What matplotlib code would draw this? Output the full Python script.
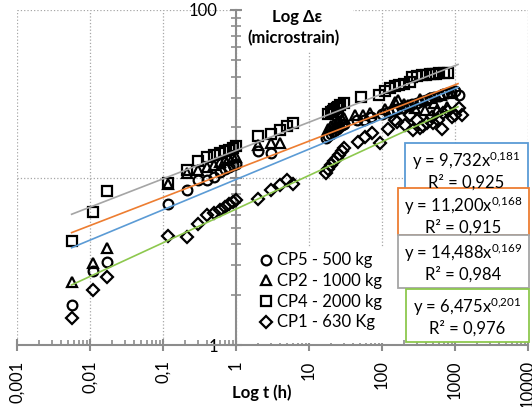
import numpy as np
import matplotlib
matplotlib.use('Agg')
import matplotlib.pyplot as plt
from matplotlib.patches import Rectangle
from matplotlib.ticker import FixedLocator, FixedFormatter, NullFormatter, LogLocator

plt.rcParams['font.family'] = ['Lato', 'DejaVu Sans']

# CP5 - 500 kg (circles)
t_cp5 = [0.0056, 0.011, 0.017, 0.117, 0.21, 0.3, 0.4, 0.5, 0.6, 0.7, 0.8, 0.9, 1.0,
         2, 3, 17, 18, 20, 22, 24, 26, 28, 30, 45, 57, 70, 100, 120, 140, 160, 190,
         220, 260, 300, 350, 400, 460, 520, 600, 680, 770, 870, 1000, 1150]
e_cp5 = [1.73, 2.78, 3.12, 6.9, 8.4, 9.6, 9.7, 10.1, 10.8, 11.3, 11.6, 11.9, 12.1,
         14.3, 14.0, 17.2, 17.6, 18.3, 19.0, 19.6, 20.1, 20.6, 21.0, 22.0, 22.0, 23.0, 24.0, 24.5, 25.0, 25.5, 26.0,
         26.8, 27.5, 28.0, 28.8, 29.2, 29.8, 30.3, 30.8, 31.3, 31.8, 32.3, 32.8, 31.0]

# CP2 - 1000 kg (triangles)
t_cp2 = [0.0056, 0.011, 0.017, 0.117, 0.21, 0.3, 0.4, 0.5, 0.6, 0.7, 0.8, 0.9, 1.0,
         2, 3, 4, 18, 20, 22, 24, 26, 28, 30, 43, 55, 68, 110, 150, 167, 200, 226,
         280, 330, 390, 450, 520, 570, 650, 780, 900]
e_cp2 = [2.39, 3.10, 3.78, 9.2, 10.6, 11.1, 11.6, 11.9, 12.4, 12.7, 13.0, 13.2, 13.3,
         15.6, 16.0, 16.1, 19.5, 20.2, 20.8, 21.3, 21.8, 22.3, 22.8, 23.6, 23.6, 24.3, 25.5, 28.4, 29.0, 27.5, 27.0,
         26.0, 29.5, 25.3, 30.0, 28.0, 25.3, 31.0, 26.5, 32.0]

# CP4 - 2000 kg (squares)
t_cp4 = [0.0056, 0.011, 0.017, 0.117, 0.21, 0.3, 0.4, 0.5, 0.6, 0.7, 0.8, 0.9, 1.0,
         2, 3, 4, 5, 6, 18, 20, 21, 22, 24, 25, 27, 30, 52, 90, 110, 130, 150, 170,
         200, 240, 260, 300, 350, 400, 450, 500, 550, 600, 700, 800]
e_cp4 = [4.18, 6.25, 8.34, 9.3, 11.1, 12.5, 13.2, 13.7, 14.0, 14.3, 14.6, 14.9, 15.4,
         17.6, 18.3, 19.2, 20.4, 21.1, 24.0, 24.5, 25.0, 25.5, 26.0, 26.5, 27.0, 28.0, 30.4, 31.2, 33.0, 34.0, 35.0, 35.5,
         36.0, 37.0, 40.0, 40.5, 41.0, 41.0, 41.5, 41.5, 41.5, 42.0, 42.0, 42.0]

# CP1 - 630 Kg (diamonds)
t_cp1 = [0.0056, 0.011, 0.017, 0.117, 0.21, 0.3, 0.4, 0.5, 0.6, 0.7, 0.8, 0.9, 1.0,
         2, 3, 4, 5, 6, 17, 18, 20, 22, 24, 26, 28, 30, 47, 59, 73, 94, 120, 150, 160,
         205, 240, 265, 300, 330, 360, 410, 480, 500, 580, 660, 680, 800, 900, 1000, 1150, 1230]
e_cp1 = [1.44, 2.13, 2.54, 4.48, 4.43, 5.28, 5.97, 6.1, 6.4, 6.7, 6.9, 7.1, 7.3,
         7.4, 8.4, 9.0, 9.7, 9.2, 10.6, 11.2, 11.8, 12.5, 13.1, 13.7, 14.3, 14.9, 16.4, 17.5, 18.4, 16.0, 19.5, 22.0, 21.5,
         20.6, 23.6, 19.2, 22.0, 19.7, 20.2, 21.1, 23.1, 21.2, 22.0, 19.6, 24.2, 25.0, 23.1, 23.6, 26.0, 23.6]

# power-law trendlines y = a * t^b (same order: CP5, CP2, CP4, CP1)
fit_a = [9.732, 11.200, 14.488, 6.475]
fit_b = [0.181, 0.168, 0.169, 0.201]
fit_a_lbl = ['9,732', '11,200', '14,488', '6,475']
fit_b_lbl = ['0,181', '0,168', '0,169', '0,201']
fit_r2_lbl = ['0,925', '0,915', '0,984', '0,976']
fit_colors = ['#5B9BD5', '#ED7D31', '#A5A5A5', '#8DC84E']

series_t = [t_cp5, t_cp2, t_cp4, t_cp1]
series_e = [e_cp5, e_cp2, e_cp4, e_cp1]
series_lbl = ['CP5 - 500 kg', 'CP2 - 1000 kg', 'CP4 - 2000 kg', 'CP1 - 630 Kg']
markers = ['o', '^', 's', 'D']
msizes = [7, 7.5, 7, 6]

x_ticks = [0.001, 0.01, 0.1, 1, 10, 100, 1000, 10000]
x_tick_lbl = ['0,001', '0,01', '0,1', '1', '10', '100', '1000', '10000']

W, H = 532, 407
FS = 12
fig = plt.figure(figsize=(W / 100, H / 100), dpi=100)
ax = fig.add_axes([17 / W, 62 / H, 511 / W, 335 / H])
ax.set_xscale('log')
ax.set_yscale('log')
ax.set_xlim(0.001, 10000)
ax.set_ylim(1, 100)

axis_gray = '#8C8C8C'
ax.grid(True, which='major', ls=':', color='#A6A6A6', lw=0.9)
ax.set_axisbelow(True)
for s in ['top', 'right']:
    ax.spines[s].set_visible(False)
ax.spines['left'].set_position(('data', 1))
ax.spines['left'].set_color(axis_gray)
ax.spines['bottom'].set_color(axis_gray)
ax.spines['left'].set_linewidth(1.5)
ax.spines['bottom'].set_linewidth(1.5)

ax.xaxis.set_major_locator(FixedLocator(x_ticks))
ax.xaxis.set_major_formatter(FixedFormatter(x_tick_lbl))
ax.xaxis.set_minor_locator(LogLocator(base=10, subs=np.arange(2, 10), numticks=20))
ax.xaxis.set_minor_formatter(NullFormatter())
ax.yaxis.set_major_locator(FixedLocator([1, 10, 100]))
ax.yaxis.set_major_formatter(FixedFormatter(['1', '', '100']))
ax.yaxis.set_minor_locator(LogLocator(base=10, subs=np.arange(2, 10), numticks=20))
ax.yaxis.set_minor_formatter(NullFormatter())

ax.tick_params(axis='x', which='major', direction='inout', length=8, width=1.5,
               color=axis_gray, labelsize=FS, labelrotation=90, pad=7)
ax.tick_params(axis='x', which='minor', direction='in', length=3.5, width=1.2, color=axis_gray)
ax.tick_params(axis='y', which='major', direction='inout', length=8, width=1.5,
               color=axis_gray, labelsize=FS, pad=9)
ax.tick_params(axis='y', which='minor', direction='inout', length=7, width=1.2, color=axis_gray)

handles = []
for t, e, lbl, m, ms in zip(series_t, series_e, series_lbl, markers, msizes):
    h, = ax.plot(t, e, ls='none', marker=m, ms=ms, mfc='none', mec='black', mew=1.6,
                 label=lbl, zorder=3)
    handles.append(h)

t_fit = np.logspace(np.log10(0.0056), np.log10(1100), 50)
for a, b, c in zip(fit_a, fit_b, fit_colors):
    ax.plot(t_fit, a * t_fit ** b, color=c, lw=1.2, zorder=4)

# white areas behind the axis title and the legend
fig.patches.append(Rectangle((242 / W, 1 - 52 / H), 111 / W, 52 / H,
                             transform=fig.transFigure, fc='white', ec='none', zorder=1))
fig.patches.append(Rectangle((256 / W, 1 - 343 / H), 132 / W, 96 / H,
                             transform=fig.transFigure, fc='white', ec='none', zorder=1))

fig.text(297 / W, 1 - 17 / H, 'Log Δε', ha='center', va='center', fontsize=FS, fontweight='bold')
fig.text(294 / W, 1 - 38 / H, '(microstrain)', ha='center', va='center', fontsize=FS, fontweight='bold')
fig.text(262 / W, 1 - 393 / H, 'Log t (h)', ha='center', va='center', fontsize=FS, fontweight='bold')

fig.legend(handles=handles, loc='upper left', bbox_to_anchor=(257 / W, 1 - 249 / H),
           frameon=False, fontsize=FS, handlelength=0.7, handletextpad=0.3,
           labelspacing=0.28, borderpad=0.2, borderaxespad=0)

# trendline equation boxes (px: left, top, right, bottom)
boxes = [(405, 143, 528, 190), (398, 188, 529, 235), (398, 235, 529, 288), (406, 289, 529, 342)]
for (x0, y0, x1, y1), a_l, b_l, r_l, c in zip(boxes, fit_a_lbl, fit_b_lbl, fit_r2_lbl, fit_colors):
    fig.patches.append(Rectangle((x0 / W, 1 - y1 / H), (x1 - x0) / W, (y1 - y0) / H,
                                 transform=fig.transFigure, fc='white', ec=c, lw=1.3, zorder=2))
    xc = (x0 + x1) / 2 / W
    sup = b_l.replace(',', '{,}')
    fig.text(xc, 1 - (y0 + 18) / H, 'y = ' + a_l + 'x$\\mathregular{^{' + sup + '}}$',
             ha='center', va='center', fontsize=FS, zorder=3)
    fig.text(xc, 1 - (y0 + 39) / H, 'R² = ' + r_l, ha='center', va='center', fontsize=FS, zorder=3)

fig.savefig('out.png', dpi=100)
